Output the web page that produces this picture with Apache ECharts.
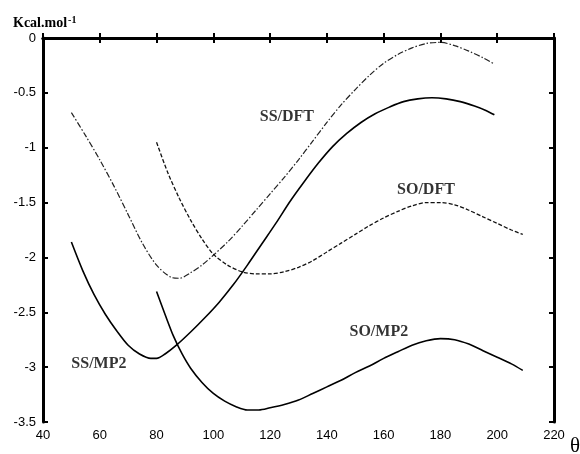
<!DOCTYPE html>
<html>
<head>
<meta charset="utf-8">
<script src="https://cdn.jsdelivr.net/npm/echarts@6/dist/echarts.min.js"></script>
<style>html,body{margin:0;padding:0;background:#fff}#c{width:580px;height:454px}</style>
</head>
<body>
<div id="c"></div>
<script>
// x: angle θ (deg), y: energy (Kcal.mol-1)
var ssDft = [[50,-0.68],[55,-0.89],[60,-1.11],[65,-1.35],[70,-1.61],[75,-1.87],[80,-2.07],[85,-2.18],[88,-2.19],[92,-2.14],[96,-2.07],[100,-1.98],[105,-1.86],[110,-1.72],[115,-1.57],[120,-1.42],[125,-1.27],[130,-1.11],[135,-0.94],[140,-0.77],[145,-0.61],[150,-0.47],[155,-0.34],[160,-0.23],[165,-0.15],[170,-0.09],[175,-0.05],[180,-0.04],[185,-0.07],[190,-0.12],[195,-0.18],[198.5,-0.23]];
var soDft = [[80,-0.95],[84,-1.23],[88,-1.46],[92,-1.66],[96,-1.83],[100,-1.97],[105,-2.07],[110,-2.13],[115,-2.15],[120,-2.15],[125,-2.13],[130,-2.09],[135,-2.03],[140,-1.95],[145,-1.87],[150,-1.79],[155,-1.71],[160,-1.64],[165,-1.58],[170,-1.53],[175,-1.5],[180,-1.5],[185,-1.52],[190,-1.57],[195,-1.63],[200,-1.69],[205,-1.75],[209,-1.79]];
var ssMp2 = [[50,-1.86],[54,-2.12],[58,-2.34],[62,-2.52],[66,-2.67],[70,-2.8],[74,-2.88],[78,-2.92],[80,-2.92],[83,-2.88],[87,-2.8],[92,-2.68],[97,-2.55],[102,-2.41],[107,-2.25],[112,-2.07],[117,-1.88],[122,-1.69],[127,-1.49],[132,-1.31],[137,-1.14],[142,-0.99],[147,-0.87],[152,-0.77],[157,-0.69],[162,-0.63],[167,-0.58],[172,-0.555],[177,-0.545],[182,-0.555],[187,-0.58],[192,-0.62],[196,-0.66],[199,-0.7]];
var soMp2 = [[80,-2.31],[83,-2.52],[86,-2.72],[89,-2.88],[92,-3.01],[96,-3.14],[100,-3.24],[104,-3.31],[108,-3.36],[112,-3.39],[116,-3.39],[120,-3.37],[125,-3.34],[130,-3.3],[135,-3.24],[140,-3.18],[145,-3.12],[150,-3.05],[155,-2.99],[160,-2.92],[165,-2.86],[170,-2.8],[175,-2.76],[180,-2.74],[185,-2.75],[190,-2.79],[195,-2.85],[200,-2.91],[205,-2.97],[209,-3.03]];
var curveLabels = [
  {name:'SS/DFT', value:[125.9,-0.72]},
  {name:'SO/DFT', value:[174.9,-1.38]},
  {name:'SS/MP2', value:[59.7,-2.97]},
  {name:'SO/MP2', value:[158.3,-2.68]}
];
var xMin = 40, xMax = 220, xStep = 20;
var yMin = -3.5, yMax = 0, yStep = 0.5;

var chart = echarts.init(document.getElementById('c'), null, {renderer:'canvas'});
var serif = 'Liberation Serif, Times New Roman, serif';
var axisLine = {show:true, lineStyle:{color:'#000', width:3}};
var axisTick = {show:true, inside:true, length:5, lineStyle:{color:'#000', width:2}};
var tickFont = {color:'#000', fontFamily:'Liberation Sans, Arial, sans-serif', fontSize:13};
function line(data, width, type, color){
  return {type:'line', data:data, smooth:0.3, symbol:'none', showSymbol:false,
    lineStyle:{color:color, width:width, type:type}, silent:true, z:3};
}
chart.setOption({
  animation:false,
  backgroundColor:'#fff',
  grid:{left:43, right:26, top:38, bottom:32, containLabel:false},
  xAxis:[
    {type:'value', min:xMin, max:xMax, interval:xStep, position:'bottom',
     axisLine:axisLine, axisTick:axisTick, splitLine:{show:false},
     axisLabel:Object.assign({margin:7}, tickFont)},
    {type:'value', min:xMin, max:xMax, interval:xStep, position:'top',
     axisLine:axisLine, axisTick:axisTick, splitLine:{show:false}, axisLabel:{show:false}}
  ],
  yAxis:[
    {type:'value', min:yMin, max:yMax, interval:yStep, position:'left',
     axisLine:axisLine, axisTick:axisTick, splitLine:{show:false},
     axisLabel:Object.assign({margin:7}, tickFont),
     name:'{a|Kcal.mol}{b|-1}', nameLocation:'end', nameGap:7, nameMoveOverlap:false,
     nameTextStyle:{align:'left', padding:[0,0,0,-30],
       rich:{a:{fontFamily:serif, fontWeight:'bold', fontSize:14, color:'#000', lineHeight:16},
             b:{fontFamily:serif, fontWeight:'bold', fontSize:10, color:'#000', verticalAlign:'top', lineHeight:16, padding:[0,0,6,1]}}}},
    {type:'value', min:yMin, max:yMax, interval:yStep, position:'right',
     axisLine:axisLine, axisTick:axisTick, splitLine:{show:false}, axisLabel:{show:false}}
  ],
  graphic:[
    {type:'text', right:0, bottom:-3, style:{text:'θ', font:'21px ' + serif, fill:'#000'}}
  ],
  series:[
    line(ssDft, 1.2, [6,2,1.5,2], '#222'),
    line(soDft, 1.3, [4,2], '#111'),
    line(ssMp2, 1.6, 'solid', '#000'),
    line(soMp2, 1.6, 'solid', '#000'),
    {type:'scatter', data:curveLabels, symbolSize:0, silent:true, z:5,
     label:{show:true, position:'inside', formatter:function(p){return p.name;},
       color:'#000', textBorderWidth:0, fontFamily:serif, fontWeight:'bold', fontSize:16}}
  ]
});
</script>
</body>
</html>
